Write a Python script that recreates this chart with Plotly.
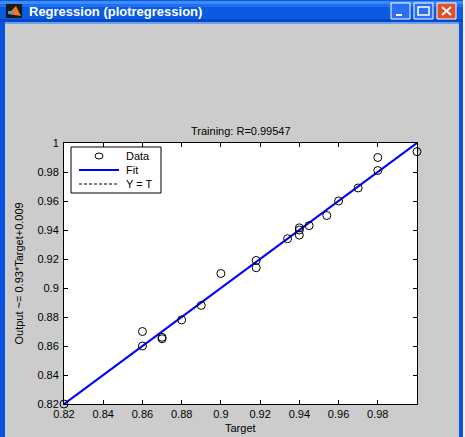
import plotly.graph_objects as go

# data
target = [0.82, 0.86, 0.86, 0.87, 0.87, 0.88, 0.89, 0.90, 0.918, 0.918,
          0.934, 0.94, 0.94, 0.94, 0.945, 0.954, 0.96, 0.97, 0.98, 0.98, 1.0]
output = [0.82, 0.870, 0.860, 0.866, 0.865, 0.878, 0.888, 0.910, 0.919, 0.914,
          0.934, 0.9415, 0.940, 0.9365, 0.943, 0.950, 0.960, 0.969, 0.990, 0.981, 0.994]
fit_slope = 1.0
fit_intercept = 0.0
line_x = [0.82, 1.0]
x_ticks = [0.82, 0.84, 0.86, 0.88, 0.90, 0.92, 0.94, 0.96, 0.98]
x_labels = ["0.82", "0.84", "0.86", "0.88", "0.9", "0.92", "0.94", "0.96", "0.98"]
y_ticks = [0.82, 0.84, 0.86, 0.88, 0.90, 0.92, 0.94, 0.96, 0.98, 1.0]
y_labels = ["0.82", "0.84", "0.86", "0.88", "0.9", "0.92", "0.94", "0.96", "0.98", "1"]
legend_names = ["Data", "Fit", "Y = T"]

W, H = 465, 437
L, R, T, B = 64, 417, 143, 404  # plot box in pixels
FONT = "Liberation Sans, Arial, sans-serif"
DASH = "3px,2px"


def px(x, y):
    # pixel -> paper coords
    return (x - L) / (R - L), (B - y) / (B - T)


def rect(x0, y0, x1, y1, fill, line=None, lw=0):
    a, b = px(x0, y1)
    c, d = px(x1, y0)
    return dict(type="rect", xref="paper", yref="paper", x0=a, y0=b, x1=c, y1=d,
                fillcolor=fill, line=dict(color=line or fill, width=lw), layer="above")


def seg(x0, y0, x1, y1, color, lw=2, dash="solid"):
    a, b = px(x0, y0)
    c, d = px(x1, y1)
    return dict(type="line", xref="paper", yref="paper", x0=a, y0=b, x1=c, y1=d,
                line=dict(color=color, width=lw, dash=dash), layer="above")


def label(text, x, y, size=11, color="black", xanchor="left", angle=0):
    a, b = px(x, y)
    return dict(text=text, x=a, y=b, xref="paper", yref="paper", showarrow=False,
                xanchor=xanchor, yanchor="middle", textangle=angle,
                font=dict(family=FONT, size=size, color=color))


fig = go.Figure()
fig.add_trace(go.Scatter(
    x=line_x, y=line_x, mode="lines", name="Y = T",
    line=dict(color="black", width=1, dash=DASH),
))
fig.add_trace(go.Scatter(
    x=line_x, y=[fit_slope * v + fit_intercept for v in line_x], mode="lines",
    name="Fit", line=dict(color="#0000ff", width=2.2),
))
fig.add_trace(go.Scatter(
    x=target, y=output, mode="markers", name="Data", cliponaxis=False,
    marker=dict(symbol="circle-open", size=8, color="black", line=dict(width=1)),
))

axis = dict(showgrid=False, zeroline=False, showline=True, linecolor="black",
            linewidth=1, mirror="ticks", ticks="inside", ticklen=4,
            tickcolor="black", tickfont=dict(family=FONT, size=11, color="black"))
fig.update_xaxes(range=[0.82, 1.0], tickvals=x_ticks, ticktext=x_labels, **axis)
fig.update_yaxes(range=[0.82, 1.0], tickvals=y_ticks, ticktext=y_labels,
                 ticklabelstandoff=2, **axis)

# window chrome (Windows XP title bar and borders)
shapes = [
    rect(0, 0, W, 22, "#0a5ae2"),
    rect(0, 1, W, 4, "#3b8cf8"),
    rect(0, 4, W, 7, "#1f6ff0"),
    rect(0, 19, W, 22, "#0847c4"),
    rect(0, 22, 5, H, "#0a52e0"),
    rect(459, 22, 463, H, "#0a52e0"),
    rect(463, 0, W, H, "#f0f0f0"),
    rect(5, 22, 459, 24, "#6aa0f0"),
    # icon
    rect(6, 4, 22, 18, "#1a1a1a"),
    dict(type="path", xref="paper", yref="paper", layer="above",
         path="M {} {} L {} {} L {} {} Z".format(*px(8, 14), *px(16, 6), *px(21, 16)),
         fillcolor="#f07820", line=dict(width=0)),
    rect(8, 11, 13, 14, "#3fa0e0"),
    # buttons
    rect(391, 3, 410, 19, "#2a6ff0", "white", 1),
    seg(396, 15, 402, 15, "white", 2),
    rect(414, 3, 433, 19, "#2a6ff0", "white", 1),
    rect(418, 7, 429, 15, "rgba(0,0,0,0)", "white", 1.5),
    rect(437, 3, 456, 19, "#e0502c", "white", 1),
    seg(442, 7, 451, 15, "white", 2),
    seg(451, 7, 442, 15, "white", 2),
    # legend box with its keys
    rect(71, 147, 161, 193, "white", "black", 1),
    dict(type="circle", xref="paper", yref="paper", layer="above",
         x0=px(95, 0)[0], x1=px(103, 0)[0], y0=px(0, 159)[1], y1=px(0, 153)[1],
         line=dict(color="black", width=1)),
    seg(79, 170, 119, 170, "#0000ff", 2.2),
    seg(79, 184, 119, 184, "black", 1, DASH),
]

ann = [
    label("<b>Regression (plotregression)</b>", 27, 11, 13, "white"),
    label("Training: R=0.99547", 240.5, 131, xanchor="center"),
    label("Target", 240.5, 428, xanchor="center"),
    label("Output ~= 0.93*Target+0.009", 18, 273.5, xanchor="center", angle=-90),
]
for name, y in zip(legend_names, [156, 170, 184]):
    ann.append(label(name, 124, y))

fig.update_layout(
    width=W, height=H, autosize=False,
    margin=dict(l=L, r=W - R, t=T, b=H - B, pad=0),
    paper_bgcolor="#cccccc", plot_bgcolor="white",
    showlegend=False,
    shapes=shapes, annotations=ann,
)

fig.write_html("out.html", config={"displayModeBar": False},
               post_script="document.body.style.margin='0';")
